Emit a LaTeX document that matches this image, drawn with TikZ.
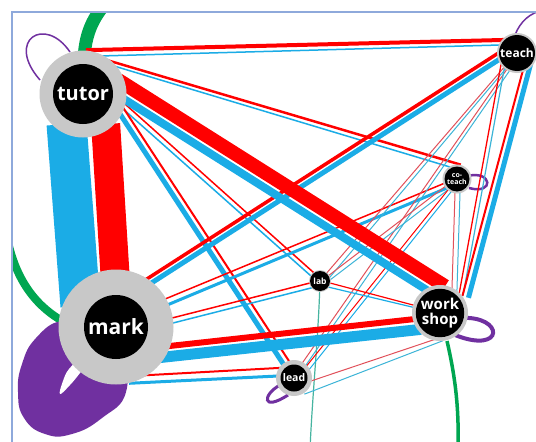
\documentclass[tikz,border=0pt]{standalone}
\usepackage{fontspec}
\setmainfont{Open Sans}
\usetikzlibrary{calc}
\definecolor{rd}{RGB}{255,0,0}
\definecolor{bl}{RGB}{27,172,230}
\definecolor{pk}{RGB}{225,80,90}
\definecolor{cy}{RGB}{60,180,215}
\definecolor{gr}{RGB}{0,166,81}
\definecolor{pu}{RGB}{112,48,160}
\definecolor{gy}{RGB}{200,200,200}
\definecolor{fr}{RGB}{142,169,219}
\definecolor{tl}{RGB}{70,180,160}
\pgfdeclarelayer{background}
\pgfsetlayers{background,main}
\tikzset{
  rl/.style={draw=rd,line width=#1pt,shorten <=-6pt,shorten >=-6pt},
  bll/.style={draw=bl,line width=#1pt,shorten <=-6pt,shorten >=-6pt},
  pkl/.style={draw=pk,line width=#1pt,shorten <=-6pt,shorten >=-6pt},
  cyl/.style={draw=cy,line width=#1pt,shorten <=-6pt,shorten >=-6pt},
  ring/.style={circle,fill=gy,inner sep=0pt,minimum size=#1pt},
  core/.style={circle,fill=black,inner sep=0pt,minimum size=#1pt,text=white,align=center},
  loopline/.style={draw=pu,line width=#1pt},
}
\begin{document}
\begin{tikzpicture}[x=1pt,y=-1pt]
\useasboundingbox (0,0) rectangle (536,442);
% nodes
\node[ring=87] (tutorR) at (83,94) {};
\node[core=60,font=\fontsize{20}{20}\selectfont\bfseries] (tutor) at (83,94) {tutor};
\node[ring=115] (markR) at (116,327) {};
\node[core=64,font=\fontsize{21}{21}\selectfont\bfseries] (mark) at (116,327) {mark};
\node[ring=40] (teachR) at (517,53) {};
\node[core=36,font=\fontsize{12}{12}\selectfont\bfseries] (teach) at (517,53) {teach};
\node[ring=29] (coteachR) at (457,179) {};
\node[core=25,font=\fontsize{7}{7.5}\selectfont\bfseries] (coteach) at (457,179) {co-\\teach};
\node[ring=22] (labR) at (320,281) {};
\node[core=20,font=\fontsize{8.5}{9}\selectfont\bfseries] (lab) at (320,281) {lab};
\node[ring=56] (workshopR) at (440,313) {};
\node[core=47,font=\fontsize{15}{15}\selectfont\bfseries] (workshop) at (440,313) {work\\shop};
\node[ring=36] (leadR) at (294,378) {};
\node[core=27,font=\fontsize{10.5}{10.5}\selectfont\bfseries] (lead) at (294,378) {lead};

\begin{pgfonlayer}{background}
\fill[white] (0,0) rectangle (536,442);
\begin{scope}
\clip (13,13) rectangle (536,442);
% green arcs
\draw[gr,line width=13pt] (104,5) .. controls (92,20) and (85,35) .. (84,60);
\draw[gr,line width=8pt] (6,232) .. controls (14,278) and (35,308) .. (70,325);
\draw[gr,line width=3.5pt] ($(workshop)+(7,28)$) .. controls (456,380) and (459,410) .. (458,450);
\draw[tl,line width=1.2pt] (lab) .. controls (318,340) and (312,400) .. (310,450);
% purple loops
\fill[pu] plot[smooth cycle,tension=0.8] coordinates {(62,321) (36,338) (22,364) (18,392) (24,418) (45,434) (72,434) (102,418) (126,392) (120,350) (90,330)};
\fill[white] plot[smooth cycle,tension=0.7] coordinates {(60,394) (63,381) (69,369) (80,360) (88,362) (80,373) (70,385)};
\draw[loopline=1.5] ($(tutor)+(-13,-42)$) .. controls (45,15) and (5,40) .. ($(tutor)+(-43,-14)$);
\draw[loopline=1.5] ($(teach)+(-2,-18)$) .. controls (520,22) and (530,12) .. (545,10);
\draw[loopline=2.5] ($(coteach)+(11,-3)$) .. controls (492,170) and (495,195) .. ($(coteach)+(12,9)$);
\draw[loopline=4] ($(workshop)+(20,5)$) .. controls (505,315) and (505,355) .. ($(workshop)+(15,22)$);
\draw[loopline=3] ($(lead)+(-14,7)$) .. controls (262,395) and (262,412) .. ($(lead)+(-6,17)$);
% tutor - mark
\draw[bll=40] ($(tutor)+(-16,36)$) -- ($(mark)+(-36,-27)$);
\draw[rl=29] ($(tutor)+(23,36)$) -- ($(mark)+(0,-37)$);
% tutor - teach
\draw[rl=4] ($(tutor)+(9,-44)$) -- ($(teach)+(-15,-13)$);
\draw[bll=1.5] ($(tutor)+(17,-38)$) -- ($(teach)+(-17,-8)$);
% tutor - coteach
\draw[rl=2.5] ($(tutor)+(27,-33)$) -- ($(coteach)+(-2,-16)$);
\draw[bll=1.5] ($(tutor)+(31,-28)$) -- ($(coteach)+(-7,-12)$);
% tutor - lab
\draw[rl=1.5] ($(tutor)+(42,10)$) -- ($(lab)+(-7,-9)$);
\draw[bll=1.5] ($(tutor)+(39,14)$) -- ($(lab)+(-9,-5)$);
% tutor - lead
\draw[bll=5] ($(tutor)+(39,23)$) -- ($(lead)+(-12,-16)$);
\draw[rl=2] ($(tutor)+(43,18)$) -- ($(lead)+(-7,-20)$);
% mark - teach
\draw[rl=3.5] ($(mark)+(34,-50)$) -- ($(teach)+(-17,-1)$);
\draw[bll=5] ($(mark)+(37,-45)$) -- ($(teach)+(-14,4)$);
% mark - coteach
\draw[rl=1.5] ($(mark)+(54,-30)$) -- ($(coteach)+(-12,4)$);
\draw[bll=3] ($(mark)+(56,-24)$) -- ($(coteach)+(-10,9)$);
% mark - lab
\draw[rl=1.5] ($(mark)+(56,-9)$) -- ($(lab)+(-10,2)$);
\draw[bll=1.5] ($(mark)+(57,-4)$) -- ($(lab)+(-9,7)$);
% mark - lead
\draw[rl=2] ($(mark)+(34,48)$) -- ($(lead)+(-16,-10)$);
\draw[bll=3] ($(mark)+(19,56)$) -- ($(lead)+(-16,-2)$);
% teach - lab
\draw[pkl=1] ($(teach)+(-17,19)$) -- ($(lab)+(5,-6)$);
\draw[cyl=1] ($(teach)+(-14,19)$) -- ($(lab)+(10,-4)$);
% teach - lead
\draw[pkl=1] ($(teach)+(-12,19)$) -- ($(lead)+(9,-16)$);
\draw[cyl=1] ($(teach)+(-9,20)$) -- ($(lead)+(12,-13)$);
% coteach - lab
\draw[pkl=1] ($(coteach)+(-10,6)$) -- ($(lab)+(8,-5)$);
\draw[cyl=1] ($(coteach)+(-8,10)$) -- ($(lab)+(10,-1)$);
% coteach - lead
\draw[rl=1] ($(coteach)+(-9,11)$) -- ($(lead)+(11,-10)$);
\draw[bll=1] ($(coteach)+(-6,13)$) -- ($(lead)+(14,-7)$);
% coteach - workshop
\draw[pkl=1] ($(coteach)+(-2,14)$) -- ($(workshop)+(12,-25)$);
\draw[cyl=1] ($(coteach)+(3,14)$) -- ($(workshop)+(17,-24)$);
% lab - workshop
\draw[rl=1.2] ($(lab)+(10,2)$) -- ($(workshop)+(-27,-8)$);
\draw[bll=1.2] ($(lab)+(8,6)$) -- ($(workshop)+(-28,-6)$);
% lead - workshop
\draw[pkl=1] ($(lead)+(14,4)$) -- ($(workshop)+(-7,27)$);
\draw[cyl=1] ($(lead)+(16,14)$) -- ($(workshop)+(-3,30)$);
% mark - workshop
\draw[rl=6] ($(mark)+(49,19.5)$) -- ($(workshop)+(-25,6)$);
\draw[bll=11] ($(mark)+(49,30)$) -- ($(workshop)+(-25,17)$);
% teach - workshop (thin pair)
\draw[rl=1.3] ($(teach)+(-17,17)$) -- ($(workshop)+(20,-24)$);
\draw[cyl=1.2] ($(teach)+(-13,17)$) -- ($(workshop)+(24,-23)$);
% teach - workshop
\draw[rl=2] ($(teach)+(6,17)$) -- ($(workshop)+(24,-23)$);
\draw[bll=5] ($(teach)+(12,17)$) -- ($(workshop)+(30,-21)$);
% tutor - workshop
\draw[rl=14] ($(tutor)+(40,-11)$) -- ($(workshop)+(0,-30)$);
\draw[bll=8] ($(tutor)+(33,0)$) -- ($(workshop)+(-7,-19)$);
\end{scope}
\end{pgfonlayer}
% frame
\draw[fr,line width=2pt] (12,442) -- (12,12) -- (536,12);
\end{tikzpicture}
\end{document}
